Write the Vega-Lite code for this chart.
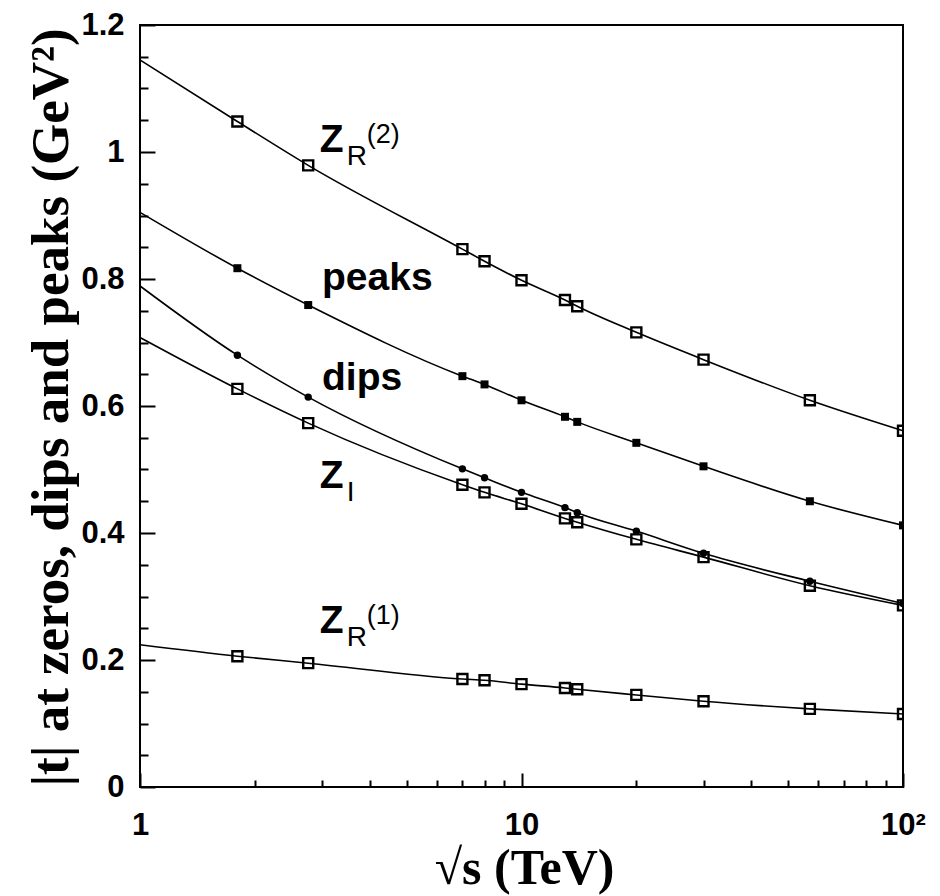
{
  "$schema": "https://vega.github.io/schema/vega-lite/v6.json",
  "width": 763,
  "height": 762,
  "autosize": "none",
  "padding": {"left": 140, "top": 25, "right": 37, "bottom": 109},
  "background": "white",
  "config": {
    "view": {"stroke": "black", "strokeWidth": 2},
    "axis": {"grid": false, "domain": false}
  },
  "datasets": {
    "curves": [
      {"curve": "ZR2", "s": 1, "t": 1.145}, {"curve": "ZR2", "s": 1.8, "t": 1.048}, {"curve": "ZR2", "s": 2.76, "t": 0.979},
      {"curve": "ZR2", "s": 7, "t": 0.847}, {"curve": "ZR2", "s": 8, "t": 0.828}, {"curve": "ZR2", "s": 10, "t": 0.798},
      {"curve": "ZR2", "s": 13, "t": 0.767}, {"curve": "ZR2", "s": 14, "t": 0.757}, {"curve": "ZR2", "s": 20, "t": 0.716},
      {"curve": "ZR2", "s": 30, "t": 0.673}, {"curve": "ZR2", "s": 57, "t": 0.609}, {"curve": "ZR2", "s": 100, "t": 0.561},
      {"curve": "peaks", "s": 1, "t": 0.905}, {"curve": "peaks", "s": 1.8, "t": 0.817}, {"curve": "peaks", "s": 2.76, "t": 0.759},
      {"curve": "peaks", "s": 7, "t": 0.647}, {"curve": "peaks", "s": 8, "t": 0.634}, {"curve": "peaks", "s": 10, "t": 0.609},
      {"curve": "peaks", "s": 13, "t": 0.583}, {"curve": "peaks", "s": 14, "t": 0.575}, {"curve": "peaks", "s": 20, "t": 0.542},
      {"curve": "peaks", "s": 30, "t": 0.505}, {"curve": "peaks", "s": 57, "t": 0.450}, {"curve": "peaks", "s": 100, "t": 0.412},
      {"curve": "dips", "s": 1, "t": 0.789}, {"curve": "dips", "s": 1.8, "t": 0.680}, {"curve": "dips", "s": 2.76, "t": 0.614},
      {"curve": "dips", "s": 7, "t": 0.501}, {"curve": "dips", "s": 8, "t": 0.487}, {"curve": "dips", "s": 10, "t": 0.464},
      {"curve": "dips", "s": 13, "t": 0.440}, {"curve": "dips", "s": 14, "t": 0.432}, {"curve": "dips", "s": 20, "t": 0.403},
      {"curve": "dips", "s": 30, "t": 0.368}, {"curve": "dips", "s": 57, "t": 0.324}, {"curve": "dips", "s": 100, "t": 0.289},
      {"curve": "ZI", "s": 1, "t": 0.708}, {"curve": "ZI", "s": 1.8, "t": 0.627}, {"curve": "ZI", "s": 2.76, "t": 0.573},
      {"curve": "ZI", "s": 7, "t": 0.476}, {"curve": "ZI", "s": 8, "t": 0.464}, {"curve": "ZI", "s": 10, "t": 0.446},
      {"curve": "ZI", "s": 13, "t": 0.423}, {"curve": "ZI", "s": 14, "t": 0.417}, {"curve": "ZI", "s": 20, "t": 0.390},
      {"curve": "ZI", "s": 30, "t": 0.362}, {"curve": "ZI", "s": 57, "t": 0.317}, {"curve": "ZI", "s": 100, "t": 0.286},
      {"curve": "ZR1", "s": 1, "t": 0.224}, {"curve": "ZR1", "s": 1.8, "t": 0.206}, {"curve": "ZR1", "s": 2.76, "t": 0.195},
      {"curve": "ZR1", "s": 7, "t": 0.170}, {"curve": "ZR1", "s": 8, "t": 0.168}, {"curve": "ZR1", "s": 10, "t": 0.162},
      {"curve": "ZR1", "s": 13, "t": 0.156}, {"curve": "ZR1", "s": 14, "t": 0.154}, {"curve": "ZR1", "s": 20, "t": 0.145},
      {"curve": "ZR1", "s": 30, "t": 0.135}, {"curve": "ZR1", "s": 57, "t": 0.123}, {"curve": "ZR1", "s": 100, "t": 0.115}
    ],
    "names": [
      {"name": "Z", "sub": "R", "sup": "(2)", "s": 2.96, "t": 1.0},
      {"name": "peaks", "sub": "", "sup": "", "s": 3.0, "t": 0.783},
      {"name": "dips", "sub": "", "sup": "", "s": 3.0, "t": 0.625},
      {"name": "Z", "sub": "I", "sup": "", "s": 2.96, "t": 0.471},
      {"name": "Z", "sub": "R", "sup": "(1)", "s": 2.96, "t": 0.242}
    ]
  },
  "encoding": {
    "x": {
      "field": "s",
      "type": "quantitative",
      "scale": {"type": "log", "domain": [1, 100], "nice": false},
      "axis": {
        "title": "√s (TeV)",
        "titleFont": "Liberation Serif",
        "titleFontWeight": "bold",
        "titleFontSize": 50,
        "titleColor": "black",
        "titleX": 384,
        "titleY": 96,
        "titleAlign": "center",
        "titleBaseline": "alphabetic",
        "values": [1, 2, 3, 4, 5, 6, 7, 8, 9, 10, 20, 30, 40, 50, 60, 70, 80, 90, 100],
        "labelExpr": "datum.value == 1 ? '1' : datum.value == 10 ? '10' : datum.value == 100 ? '10²' : ''",
        "labelFont": "Liberation Sans",
        "labelFontWeight": "bold",
        "labelFontSize": 31,
        "labelColor": "black",
        "labelFlush": false,
        "labelOverlap": false,
        "labelPadding": 37,
        "tickColor": "black",
        "tickWidth": 2,
        "tickSize": {
          "condition": {"test": "datum.value == 1 || datum.value == 10 || datum.value == 100", "value": -14},
          "value": -7
        }
      }
    },
    "y": {
      "field": "t",
      "type": "quantitative",
      "scale": {"domain": [0, 1.2], "nice": false, "zero": false},
      "axis": {
        "title": "|t| at  zeros, dips and peaks (GeV²)",
        "titleFont": "Liberation Serif",
        "titleFontWeight": "bold",
        "titleFontSize": 53,
        "titleColor": "black",
        "titleAngle": -90,
        "titleX": -73,
        "titleY": 382,
        "titleAlign": "center",
        "titleBaseline": "alphabetic",
        "values": [0, 0.05, 0.1, 0.15, 0.2, 0.25, 0.3, 0.35, 0.4, 0.45, 0.5, 0.55, 0.6, 0.65, 0.7, 0.75, 0.8, 0.85, 0.9, 0.95, 1, 1.05, 1.1, 1.15, 1.2],
        "labelExpr": "abs(datum.value * 5 - round(datum.value * 5)) < 0.001 ? format(datum.value, '~g') : ''",
        "labelFont": "Liberation Sans",
        "labelFontWeight": "bold",
        "labelFontSize": 31,
        "labelColor": "black",
        "labelOverlap": false,
        "labelPadding": 31,
        "tickColor": "black",
        "tickWidth": 2,
        "tickSize": {
          "condition": {"test": "abs(datum.value * 5 - round(datum.value * 5)) < 0.001", "value": -15},
          "value": -8
        }
      }
    }
  },
  "layer": [
    {
      "data": {"name": "curves"},
      "mark": {"type": "line", "color": "black", "strokeWidth": 1.6, "interpolate": "monotone"},
      "encoding": {"detail": {"field": "curve"}}
    },
    {
      "data": {"name": "curves"},
      "transform": [{"filter": "datum.s > 1 && (datum.curve == 'ZR2' || datum.curve == 'ZI' || datum.curve == 'ZR1')"}],
      "mark": {"type": "point", "shape": "square", "filled": false, "color": "black", "opacity": 1, "strokeWidth": 2.4, "size": 100, "clip": true}
    },
    {
      "data": {"name": "curves"},
      "transform": [{"filter": "datum.s > 1 && datum.curve == 'peaks'"}],
      "mark": {"type": "point", "shape": "square", "filled": true, "color": "black", "opacity": 1, "size": 64, "clip": true}
    },
    {
      "data": {"name": "curves"},
      "transform": [{"filter": "datum.s > 1 && datum.curve == 'dips'"}],
      "mark": {"type": "point", "shape": "circle", "filled": true, "color": "black", "opacity": 1, "size": 55, "clip": true}
    },
    {
      "data": {"name": "names"},
      "mark": {"type": "text", "font": "Liberation Sans", "fontWeight": "bold", "fontSize": 39, "align": "left", "baseline": "alphabetic", "color": "black"},
      "encoding": {"text": {"field": "name"}}
    },
    {
      "data": {"name": "names"},
      "mark": {"type": "text", "font": "Liberation Sans", "fontSize": 28, "align": "left", "baseline": "alphabetic", "dx": 27, "dy": 13, "color": "black"},
      "encoding": {"text": {"field": "sub"}}
    },
    {
      "data": {"name": "names"},
      "mark": {"type": "text", "font": "Liberation Sans", "fontSize": 27, "align": "left", "baseline": "alphabetic", "dx": 47, "dy": -9, "color": "black"},
      "encoding": {"text": {"field": "sup"}}
    }
  ]
}
